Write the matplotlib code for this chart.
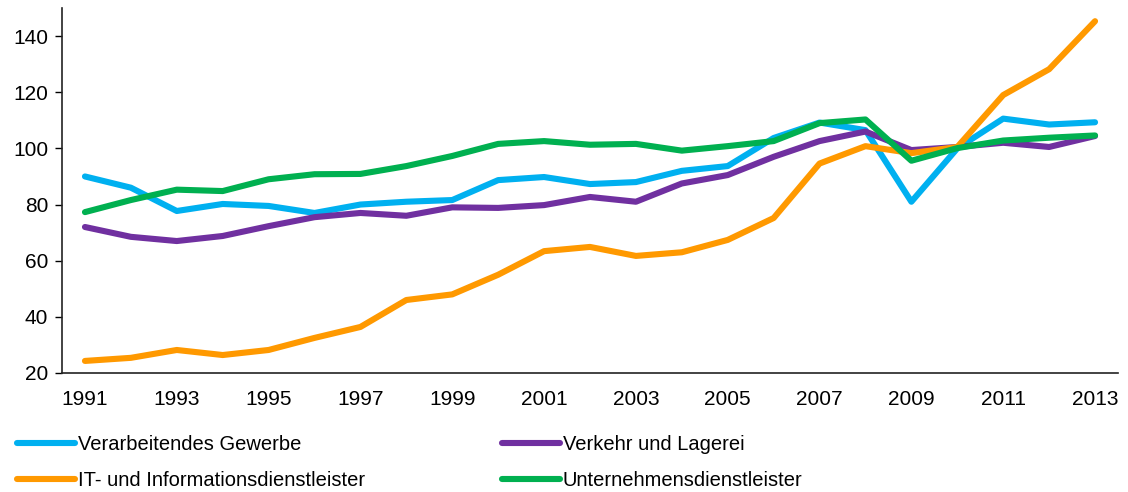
import matplotlib
matplotlib.use("Agg")
import matplotlib.pyplot as plt

years = list(range(1991, 2014))
verarbeitendes = [90, 86, 77.7, 80.2, 79.5, 77, 80, 81, 81.6, 88.7, 89.8, 87.3, 88, 92, 93.7, 103.7, 109.2, 106.5, 81, 100, 110.6, 108.5, 109.3]
verkehr = [72, 68.5, 67, 68.8, 72.3, 75.5, 77, 76, 79, 78.8, 79.8, 82.7, 81, 87.5, 90.5, 97, 102.6, 106, 99.4, 100.5, 102, 100.5, 104.4]
it_info = [24.3, 25.4, 28.2, 26.4, 28.2, 32.5, 36.4, 46, 48, 55, 63.4, 64.9, 61.7, 63, 67.4, 75.2, 94.6, 100.8, 98.3, 100.5, 119, 128.2, 145.3]
unternehmen = [77.3, 81.6, 85.3, 84.8, 89, 90.8, 90.9, 93.7, 97.3, 101.6, 102.6, 101.3, 101.6, 99.2, 100.8, 102.6, 109, 110.3, 95.6, 100.1, 102.8, 103.8, 104.6]

labels = ["Verarbeitendes Gewerbe", "IT- und Informationsdienstleister",
          "Verkehr und Lagerei", "Unternehmensdienstleister"]
colors = {"Verarbeitendes Gewerbe": "#00B0F0", "Verkehr und Lagerei": "#7030A0",
          "IT- und Informationsdienstleister": "#FF9900", "Unternehmensdienstleister": "#00B050"}
yticks = [20, 40, 60, 80, 100, 120, 140]
xticks = list(range(1991, 2014, 2))

plt.rcParams['font.family'] = ['Liberation Sans', 'DejaVu Sans']
fig = plt.figure(figsize=(11.28, 4.92), dpi=100)
ax = fig.add_axes([62/1128, 1 - 373/492, (1118-62)/1128, (373-8)/492])

series = [("Verarbeitendes Gewerbe", verarbeitendes), ("Verkehr und Lagerei", verkehr),
          ("IT- und Informationsdienstleister", it_info), ("Unternehmensdienstleister", unternehmen)]
handles = {}
for name, vals in series:
    h, = ax.plot(years, vals, color=colors[name], lw=4.4, solid_capstyle='round', solid_joinstyle='round', label=name)
    handles[name] = h

ax.set_xlim(1990.5, 2013.5)
ax.set_ylim(20, 150)
ax.set_yticks(yticks)
ax.set_xticks(xticks)
ax.tick_params(axis='x', length=0, pad=12, labelsize=15)
ax.tick_params(axis='y', length=5, width=1, direction='out', labelsize=15, pad=5)
for s in ['top', 'right']:
    ax.spines[s].set_visible(False)
for s in ['left', 'bottom']:
    ax.spines[s].set_linewidth(1.2)
    ax.spines[s].set_color('#222222')

leg = fig.legend([handles[l] for l in labels], labels, ncol=2, loc='lower left',
                 bbox_to_anchor=(13/1128, -0.004), frameon=False, fontsize=14.5,
                 handlelength=2.9, handletextpad=0.12, columnspacing=6.8,
                 labelspacing=0.85, borderaxespad=0, borderpad=0.2)

fig.savefig("out.png", dpi=100)
